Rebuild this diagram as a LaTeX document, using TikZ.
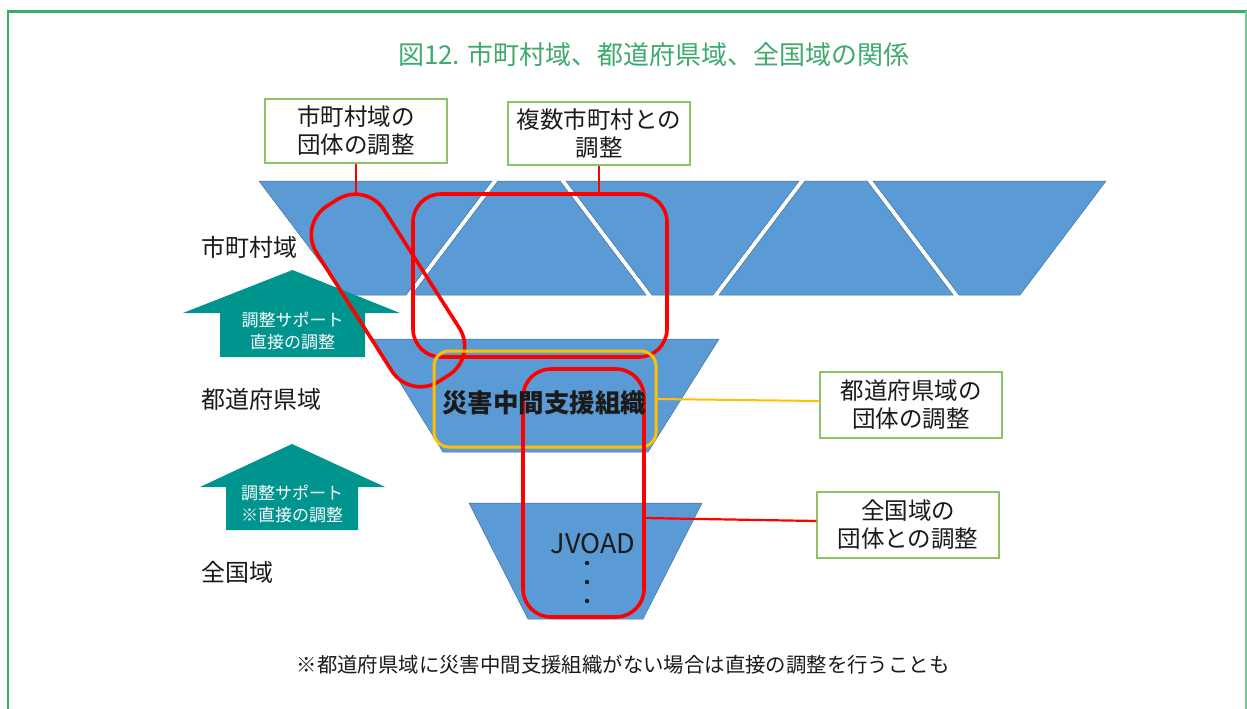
\documentclass[tikz,border=0pt]{standalone}
\usepackage{fontspec}
\setmainfont{Noto Sans CJK JP}
\definecolor{frameg}{RGB}{62,170,110}
\definecolor{boxg}{RGB}{140,195,100}
\definecolor{blu}{RGB}{91,155,213}
\definecolor{bluedge}{RGB}{65,113,156}
\definecolor{tealarrow}{RGB}{0,148,143}
\definecolor{yel}{RGB}{255,192,0}
\definecolor{txt}{RGB}{26,26,26}
\begin{document}
\begin{tikzpicture}[x=1pt,y=-1pt,
  trap/.style={fill=blu, draw=bluedge, line width=0.5pt},
  redbox/.style={draw=red, line width=3.6pt, rounded corners=28pt, inner sep=0pt, outer sep=0pt},
  yelbox/.style={draw=yel, line width=3pt, rounded corners=15pt, inner sep=0pt, outer sep=0pt},
  redcon/.style={draw=red, line width=2.2pt},
  yelcon/.style={draw=yel, line width=2pt},
  callout/.style={draw=boxg, line width=1.4pt, fill=white, minimum width=182pt, inner sep=0pt, align=center, font=\fontsize{23.5}{28}\selectfont, text=txt},
  upshape/.style={fill=tealarrow},
  arrtext/.style={text=white, align=center, font=\fontsize{17}{22}\selectfont},
  lvl/.style={font=\fontsize{24}{28}\selectfont, text=txt, anchor=west},
]
\useasboundingbox (0,0) rectangle (1247,709);
\fill[white] (0,0) rectangle (1247,709);
% frame
\draw[frameg, line width=2.2pt] (8,740) -- (8,11.5) -- (1246,11.5);
\draw[frameg, line width=3pt] (8,11.5) -- (1247,11.5);
\draw[frameg!70, line width=1.2pt] (1246,11.5) -- (1246,740);
% title
\node[font=\fontsize{26}{30}\selectfont, text=frameg] (title) at (654,55) {図12. 市町村域、都道府県域、全国域の関係};
% top row of municipalities
\path[trap] (259,181) -- (492,181) -- (406,295) -- (345,295) -- cycle;
\path[trap] (498,181) -- (560,181) -- (646,295) -- (412,295) -- cycle;
\path[trap] (566,181) -- (799,181) -- (713,295) -- (652,295) -- cycle;
\path[trap] (805,181) -- (867,181) -- (953,295) -- (719,295) -- cycle;
\path[trap] (873,181) -- (1106,181) -- (1020,295) -- (959,295) -- cycle;
% prefecture
\path[trap] (373,339) -- (719,339) -- (648,452) -- (443,452) -- cycle;
% national
\path[trap] (469,503) -- (702,503) -- (643,619) -- (528,619) -- cycle;
% arrows
\path[upshape] (292.5,270) -- (400,313) -- (365,313) -- (365,357) -- (220,357) -- (220,313) -- (183,313) -- cycle;
\path[upshape] (292,444) -- (385,487) -- (358,487) -- (358,530) -- (226,530) -- (226,487) -- (200,487) -- cycle;
\node[arrtext] (a1t) at (292.5,331) {調整サポート\\直接の調整};
\node[arrtext] (a2t) at (292,504) {調整サポート\\※直接の調整};
% level labels
\node[lvl] (l1) at (198,247) {市町村域};
\node[lvl] (l2) at (198,399) {都道府県域};
\node[lvl] (l3) at (198,572) {全国域};
% red and yellow frames
\node[redbox, rounded corners=34pt, minimum width=208pt, minimum height=80pt, rotate=-57.5] (s1) at (388,290.5) {};
\node[redbox, minimum width=254pt, minimum height=163pt] (r1) at (540,275.5) {};
\node[yelbox, minimum width=222pt, minimum height=96pt] (y1) at (545,399) {};
\node[redbox, minimum width=121pt, minimum height=248pt] (r2) at (583.5,493) {};
% texts inside shapes
\node[font=\bfseries\fontsize{25.5}{30}\selectfont, text=txt] (org) at (544,403) {災害中間支援組織};
\node[font=\fontsize{27}{30}\selectfont, text=txt] (jvoad) at (593,544) {JVOAD};
\fill[txt] (587,563) circle (2.2pt) (587,582) circle (2.2pt) (587,601) circle (2.2pt);
% callout boxes
\node[callout, minimum height=64pt] (b1) at (356,131) {市町村域の\\団体の調整};
\node[callout, minimum height=63pt] (b2) at (599,133.5) {複数市町村との\\調整};
\node[callout, minimum height=66pt] (b3) at (911,405) {都道府県域の\\団体の調整};
\node[callout, minimum height=66pt] (b4) at (908,525) {全国域の\\団体との調整};
% connectors
\coordinate (s1top) at (356,194.5);
\draw[redcon] (b1.south) -- (s1top);
\draw[redcon] (b2.south) -- (b2.south |- r1.north);
\draw[yelcon] (y1.east) -- ([yshift=4pt]b3.west);
\draw[redcon] ([yshift=-25pt]r2.east) -- ([yshift=4pt]b4.west);
% note
\node[font=\fontsize{20.4}{24}\selectfont, text=txt] (note) at (623,665) {※都道府県域に災害中間支援組織がない場合は直接の調整を行うことも};
\end{tikzpicture}
\end{document}
